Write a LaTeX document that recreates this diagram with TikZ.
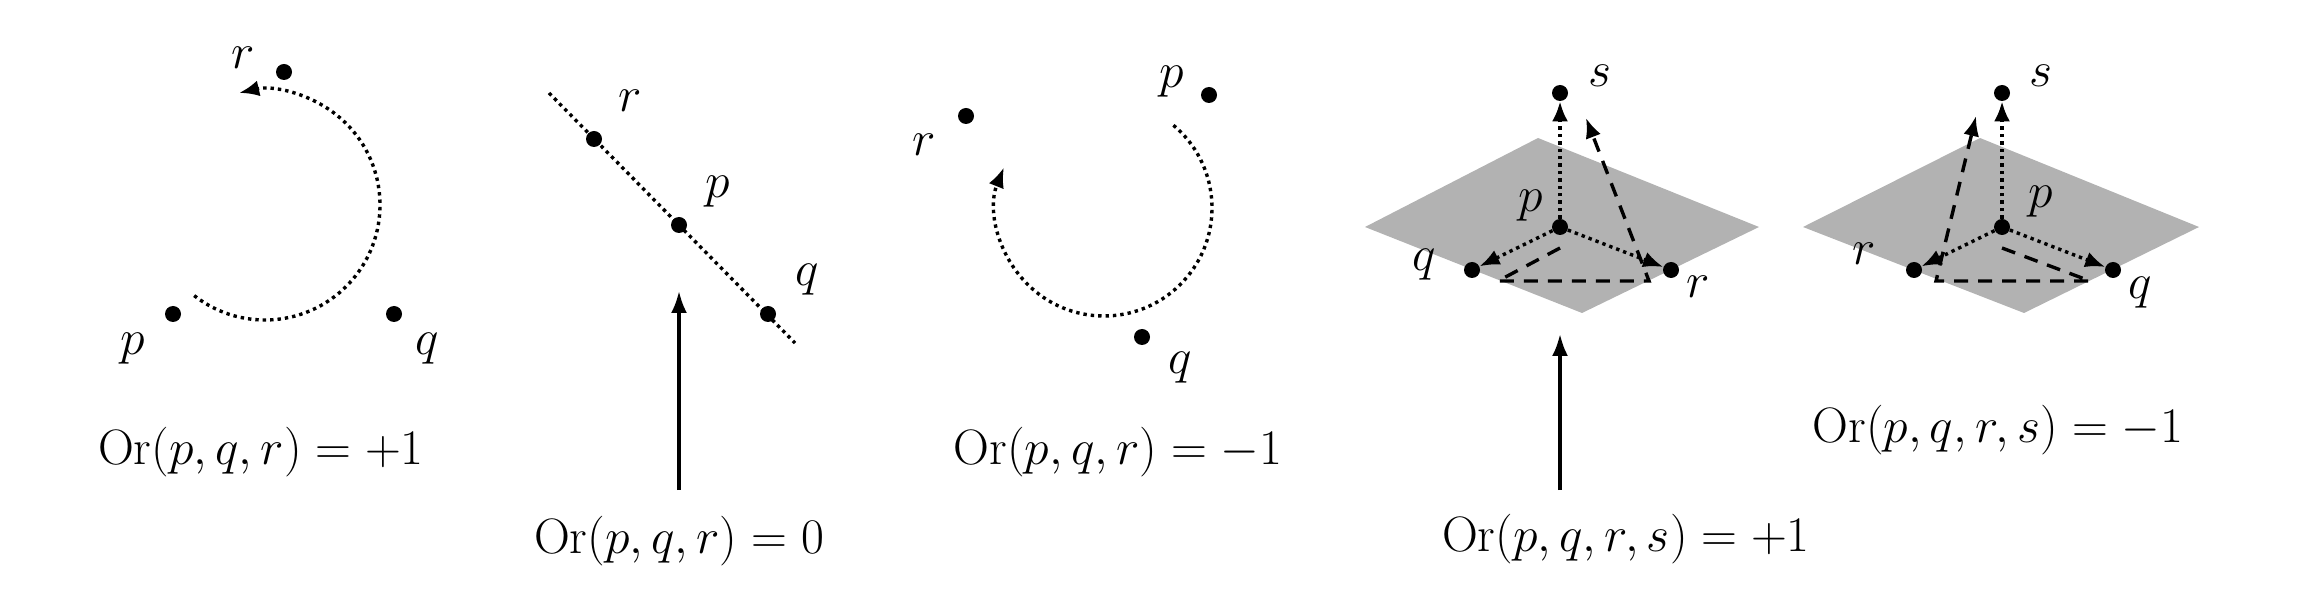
\documentclass[tikz,border=0pt]{standalone}
\usetikzlibrary{arrows.meta}
\begin{document}
\begin{tikzpicture}[x=0.5pt,y=-0.5pt,
  dot/.style={circle,fill,inner sep=0pt,minimum size=8pt},
  lbl/.style={inner sep=0pt,font=\fontsize{42}{50}\selectfont},
  captxt/.style={inner sep=0pt,font=\fontsize{44}{52}\selectfont},
  dots/.style={line width=1.7pt,dotted},
  dsh/.style={line width=1.7pt,dash pattern=on 7pt off 5pt},
  tip/.style={-{Latex[length=10pt,width=8pt]}},
  upar/.style={line width=1.7pt,-{Latex[length=11pt,width=8pt]}}]
\useasboundingbox (0,0) rectangle (2310,608);
% panel 1
\node[dot] (r1) at (284,72) {};
\node[dot] (p1) at (173,314) {};
\node[dot] (q1) at (394,314) {};
\node[lbl] at (243,58) {$r$};
\node[lbl] at (133,349) {$p$};
\node[lbl] at (427,349) {$q$};
\draw[dots,tip] (265,205) ++(128:115) arc[start angle=128,end angle=-103,radius=115];
\node[captxt] (c1) at (261,452) {$\mathrm{Or}(p,q,r)=+1$};
% panel 2
\coordinate (l2a) at (549,93);
\coordinate (l2b) at (795,343);
\draw[dots] (l2a) -- (l2b);
\node[dot] (r2) at (594,139) {};
\node[dot] (p2) at (679,225) {};
\node[dot] (q2) at (768,314) {};
\node[lbl] at (630,101) {$r$};
\node[lbl] at (718,192) {$p$};
\node[lbl] at (807,280) {$q$};
\node[captxt] (c2) at (679,541) {$\mathrm{Or}(p,q,r)=0$};
\coordinate (b2) at (679,490);
\coordinate (t2) at (679,291);
\draw[upar] (b2) -- (t2);
% panel 3
\node[dot] (r3) at (966,116) {};
\node[dot] (p3) at (1209,95) {};
\node[dot] (q3) at (1142,337) {};
\node[lbl] at (924,145) {$r$};
\node[lbl] at (1172,82) {$p$};
\node[lbl] at (1180,368) {$q$};
\draw[dots,tip] (1104,208) ++(-50:108) arc[start angle=-50,end angle=202,radius=108];
\node[captxt] (c3) at (1118,452) {$\mathrm{Or}(p,q,r)=-1$};
% panel 4
\fill[black!30] (1365,227) -- (1538,138) -- (1759,227) -- (1582,313) -- cycle;
\node[dot] (p4) at (1560,227) {};
\node[dot] (s4) at (1560,93) {};
\node[dot] (q4) at (1472,270) {};
\node[dot] (r4) at (1671,270) {};
\node[lbl] at (1600,76) {$s$};
\node[lbl] at (1531,206) {$p$};
\node[lbl] at (1424,265) {$q$};
\node[lbl] at (1698,287) {$r$};
\draw[dots,tip] (p4) -- (s4);
\draw[dots,tip] (p4) -- (q4);
\draw[dots,tip] (p4) -- (r4);
\coordinate (a4) at (1560,248);
\coordinate (b4) at (1498,281);
\coordinate (c4) at (1649,281);
\coordinate (d4) at (1586,118);
\draw[dsh,tip] (a4) -- (b4) -- (c4) -- (d4);
\node[captxt] (c4l) at (1626,539) {$\mathrm{Or}(p,q,r,s)=+1$};
\coordinate (b4a) at (1560,490);
\coordinate (t4) at (1560,334);
\draw[upar] (b4a) -- (t4);
% panel 5
\fill[black!30] (1803,227) -- (1980,138) -- (2199,227) -- (2024,313) -- cycle;
\node[dot] (p5) at (2002,227) {};
\node[dot] (s5) at (2002,93) {};
\node[dot] (r5) at (1914,270) {};
\node[dot] (q5) at (2113,270) {};
\node[lbl] at (2041,76) {$s$};
\node[lbl] at (2041,202) {$p$};
\node[lbl] at (1864,254) {$r$};
\node[lbl] at (2140,293) {$q$};
\draw[dots,tip] (p5) -- (s5);
\draw[dots,tip] (p5) -- (q5);
\draw[dots,tip] (p5) -- (r5);
\coordinate (a5) at (2002,248);
\coordinate (b5) at (2090,281);
\coordinate (c5) at (1936,281);
\coordinate (d5) at (1976,116);
\draw[dsh,tip] (a5) -- (b5) -- (c5) -- (d5);
\node[captxt] (c5l) at (1998,430) {$\mathrm{Or}(p,q,r,s)=-1$};
\end{tikzpicture}
\end{document}
